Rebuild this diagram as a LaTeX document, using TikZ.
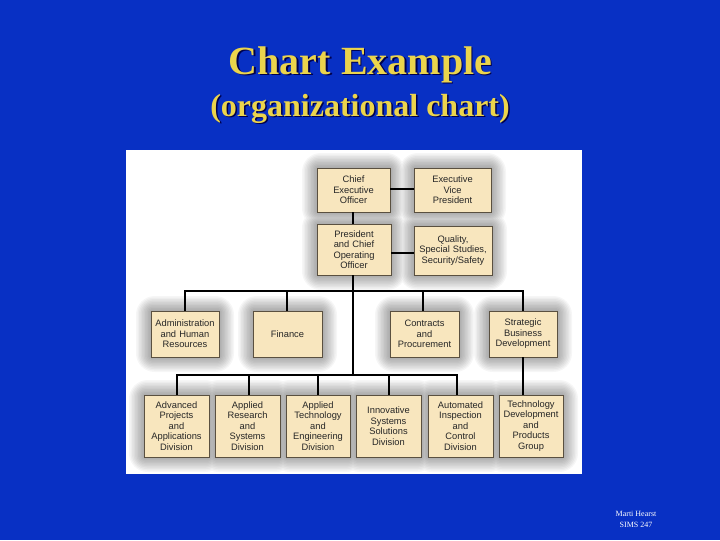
\documentclass[tikz,border=0pt]{standalone}
\usepackage{fontspec}
\setmainfont{Liberation Serif}
\newfontfamily\boxfont{Liberation Sans}
\definecolor{slidebg}{HTML}{0830C4}
\definecolor{titleyel}{HTML}{EBD44C}
\definecolor{boxfill}{HTML}{F8E6BE}
\definecolor{boxedge}{HTML}{5A5040}
\newcommand{\orgbox}[6]{% name, x1, y1, x2, y2, text
  \node[orgnode, minimum width={(#4-#2)*0.75pt}, minimum height={(#5-#3)*0.75pt}, text width={(#4-#2)*0.75pt}]
    (#1) at ({(#2+#4)/2},{-(#3+#5)/2}) {#6};}
\newcommand{\haloR}[4]{({#1-\g*1.5},{-(#2-\g*1.5)}) rectangle ({#3+\g*1.5},{-(#4+\g*1.5)})}
\tikzset{
  x=0.75pt, y=0.75pt,
  orgnode/.style={draw=boxedge, line width=0.6pt, fill=boxfill, inner sep=0pt, align=center,
    font=\boxfont\fontsize{7}{7.9}\selectfont, text=black!85},
  conn/.style={draw=black, line width=1.5pt},
  bigtitle/.style={font=\fontsize{30}{32}\selectfont\bfseries, inner sep=0pt},
  subtitle/.style={font=\fontsize{24}{26}\selectfont\bfseries, inner sep=0pt},
  footer/.style={font=\fontsize{6}{8.5}\selectfont, text=white, align=center, inner sep=0pt}
}
\begin{document}
\begin{tikzpicture}
\useasboundingbox (0,0) rectangle (720,-540);
\fill[slidebg] (0,0) rectangle (720,-540);
% titles
\node[bigtitle, text=black!70!blue] at (362,-66) {Chart Example};
\node[bigtitle, text=titleyel] (title) at (360.5,-64.5) {Chart Example};
\node[subtitle, text=black!70!blue] at (361.5,-110) {(organizational chart)};
\node[subtitle, text=titleyel] (subt) at (360,-108.5) {(organizational chart)};
% panel
\fill[white] (126,-150) rectangle (582,-474);
% halos: one union per level, so overlaps do not add up
\begin{scope}
\clip (126,-150) rectangle (582,-474);
\foreach \g in {10,9,...,1}{
  \fill[black, opacity=0.035, rounded corners=\g*1.4pt]
    \haloR{317}{168}{390}{212} \haloR{414}{168}{491}{212}
    \haloR{317}{224}{391}{275} \haloR{414}{226}{492}{275}
    \haloR{151}{311}{219}{357} \haloR{253}{311}{322}{357}
    \haloR{390}{311}{459}{357} \haloR{489}{311}{557}{357}
    \haloR{144}{395}{209}{457} \haloR{215}{395}{280}{457}
    \haloR{286}{395}{350}{457} \haloR{356}{395}{421}{457}
    \haloR{428}{395}{493}{457} \haloR{499}{395}{563}{457};
}
\end{scope}
% boxes
\orgbox{ceo}{317}{168}{390}{212}{Chief\\Executive\\Officer}
\orgbox{evp}{414}{168}{491}{212}{Executive\\Vice\\President}
\orgbox{pres}{317}{224}{391}{275}{President\\and Chief\\Operating\\Officer}
\orgbox{qual}{414}{226}{492}{275}{Quality,\\Special Studies,\\Security/Safety}
\orgbox{admin}{151}{311}{219}{357}{Administration\\and Human\\Resources}
\orgbox{fin}{253}{311}{322}{357}{Finance}
\orgbox{contr}{390}{311}{459}{357}{Contracts\\and\\Procurement}
\orgbox{strat}{489}{311}{557}{357}{Strategic\\Business\\Development}
\orgbox{adv}{144}{395}{209}{457}{Advanced\\Projects\\and\\Applications\\Division}
\orgbox{res}{215}{395}{280}{457}{Applied\\Research\\and\\Systems\\Division}
\orgbox{eng}{286}{395}{350}{457}{Applied\\Technology\\and\\Engineering\\Division}
\orgbox{inn}{356}{395}{421}{457}{Innovative\\Systems\\Solutions\\Division}
\orgbox{aut}{428}{395}{493}{457}{Automated\\Inspection\\and\\Control\\Division}
\orgbox{tech}{499}{395}{563}{457}{Technology\\Development\\and\\Products\\Group}
% connectors
\coordinate (bus1) at (353,-291);
\coordinate (bus2) at (353,-375);
\coordinate (lineA) at (0,-189);
\coordinate (lineB) at (0,-253);
\draw[conn] (ceo.east |- lineA) -- (evp.west |- lineA);
\draw[conn] (pres.east |- lineB) -- (qual.west |- lineB);
\draw[conn] (ceo.south -| bus1) -- (pres.north -| bus1);
\draw[conn] (pres.south -| bus1) -- (bus2);
\draw[conn] (admin.north -| 185,0) -- (185,-291) -- (523,-291) -- (strat.north -| 523,0);
\draw[conn] (fin.north -| 287,0) -- (287,-291);
\draw[conn] (contr.north -| 423,0) -- (423,-291);
\draw[conn] (strat.south -| 523,0) -- (tech.north -| 523,0);
\draw[conn] (adv.north -| 177,0) -- (177,-375) -- (457,-375) -- (aut.north -| 457,0);
\draw[conn] (res.north -| 249,0) -- (249,-375);
\draw[conn] (eng.north -| 318,0) -- (318,-375);
\draw[conn] (inn.north -| 389,0) -- (389,-375);
% footer
\node[footer] (foot) at (636,-519.5) {Marti Hearst\\SIMS 247};
\end{tikzpicture}
\end{document}
